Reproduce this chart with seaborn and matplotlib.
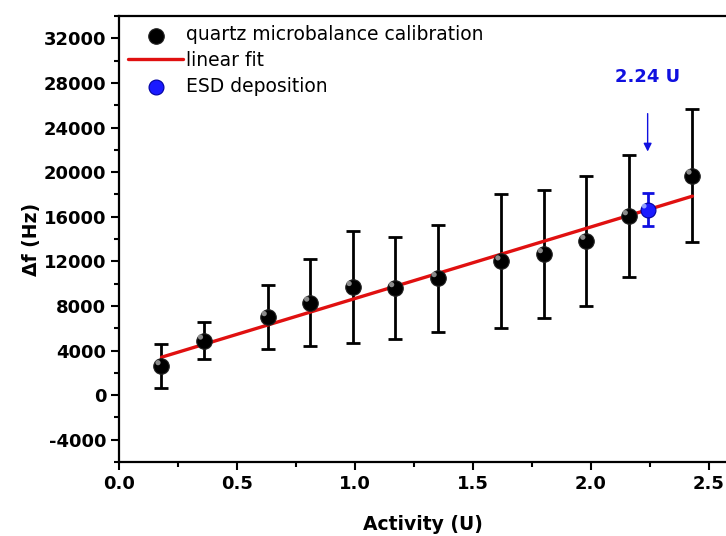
import matplotlib
matplotlib.use('Agg')
import matplotlib.pyplot as plt
import matplotlib.transforms as mtransforms
import seaborn as sns
import numpy as np
from matplotlib.ticker import MultipleLocator

# --- data ---
activity = [0.18, 0.36, 0.63, 0.81, 0.99, 1.17, 1.35, 1.62, 1.80, 1.98, 2.16, 2.43]
delta_f = [2600, 4900, 7000, 8300, 9700, 9600, 10500, 12000, 12650, 13850, 16050, 19700]
delta_f_err = [1950, 1650, 2850, 3900, 5000, 4550, 4800, 6000, 5750, 5850, 5450, 6000]

fit_x = [0.18, 2.43]
fit_y = [3400, 17850]

esd_x = [2.24]
esd_y = [16650]
esd_err = [1500]

y_ticks = [-4000, 0, 4000, 8000, 12000, 16000, 20000, 24000, 28000, 32000]
x_ticks = [0.0, 0.5, 1.0, 1.5, 2.0, 2.5]

sns.set_theme(style='ticks')
plt.rcParams['font.family'] = ['DejaVu Sans']
for key in ['text.color', 'axes.labelcolor', 'xtick.color', 'ytick.color', 'axes.edgecolor']:
    plt.rcParams[key] = 'black'

fig = plt.figure(figsize=(7.26, 5.36), dpi=100)
ax = fig.add_axes([0.1639, 0.138, 0.8361, 0.832])

# error bars first, markers on top
ax.errorbar(activity, delta_f, yerr=delta_f_err, fmt='none', ecolor='black',
            elinewidth=2, capsize=5, capthick=2, zorder=2)
ax.errorbar(esd_x, esd_y, yerr=esd_err, fmt='none', ecolor='#1010e0',
            elinewidth=2, capsize=4, capthick=2, zorder=2)

sns.lineplot(x=fit_x, y=fit_y, color='#e01010', linewidth=2.4, ax=ax,
             label='linear fit', zorder=3)
sns.scatterplot(x=activity, y=delta_f, color='black', s=125, edgecolor='#222222',
                linewidth=0.8, ax=ax, label='quartz microbalance calibration', zorder=4)
sns.scatterplot(x=esd_x, y=esd_y, color='#1a1aff', s=115, edgecolor='#0000a0',
                linewidth=0.8, ax=ax, label='ESD deposition', zorder=4)

# small highlight to give the markers a shaded look
shine = ax.transData + mtransforms.ScaledTranslation(-2.5 / 72, 2.5 / 72, fig.dpi_scale_trans)
ax.scatter(activity, delta_f, s=14, color='#9a9a9a', edgecolor='none', alpha=0.9,
           transform=shine, zorder=5)
ax.scatter(esd_x, esd_y, s=12, color='#9fb0ff', edgecolor='none', alpha=0.9,
           transform=shine, zorder=5)

# annotation for the ESD point
ax.annotate('', xy=(2.24, 21600), xytext=(2.24, 25500),
            arrowprops=dict(arrowstyle='-|>', color='#1010e0', lw=1, mutation_scale=12))
ax.text(2.24, 28500, '2.24 U', color='#1010e0', fontsize=13, fontweight='bold',
        ha='center', va='center')

ax.set_xlim(0, 2.572)
ax.set_ylim(-6000, 34000)
ax.set_xticks(x_ticks)
ax.set_xticklabels([f'{v:.1f}' for v in x_ticks])
ax.set_yticks(y_ticks)
ax.set_yticklabels([str(v) for v in y_ticks])
ax.xaxis.set_minor_locator(MultipleLocator(0.25))
ax.yaxis.set_minor_locator(MultipleLocator(2000))

ax.tick_params(which='major', direction='out', length=6, width=1.5, labelsize=13, pad=3)
ax.tick_params(which='minor', direction='out', length=3.5, width=1.5)
for lab in ax.get_xticklabels() + ax.get_yticklabels():
    lab.set_fontweight('bold')

for side in ['left', 'bottom', 'top']:
    ax.spines[side].set_linewidth(1.6)
ax.spines['right'].set_visible(False)

ax.set_xlabel('Activity (U)', fontsize=13.5, fontweight='bold', labelpad=16)
ax.set_ylabel('Δf (Hz)', fontsize=13.5, fontweight='bold', labelpad=2)

handles, labels = ax.get_legend_handles_labels()
order = [labels.index('quartz microbalance calibration'), labels.index('linear fit'),
         labels.index('ESD deposition')]
ax.legend([handles[i] for i in order], [labels[i] for i in order], loc='upper left',
          frameon=False, fontsize=13.5, handlelength=2.9, handletextpad=0.2,
          labelspacing=0.35, borderaxespad=0.1)

fig.savefig('out.png', dpi=100)
